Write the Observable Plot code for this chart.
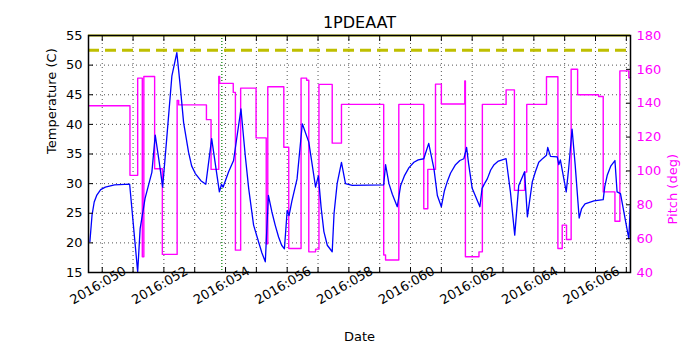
<!DOCTYPE html>
<html>
<head>
<meta charset="utf-8">
<script src="https://cdn.jsdelivr.net/npm/d3@7"></script>
<script src="https://cdn.jsdelivr.net/npm/@observablehq/plot@0.6"></script>
<style>
  html, body { margin: 0; padding: 0; background: white; }
</style>
</head>
<body>
<div id="chart"></div>
<script>
// ---- Data (day of year 2016) ----
const title = "1PDEAAT";
const tempDays = [49.60, 49.67, 49.74, 49.82, 49.95, 50.10, 50.40, 50.89, 51.15, 51.23, 51.39, 51.61,
  51.72, 51.85, 51.96, 52.10, 52.26, 52.42, 52.53, 52.64, 52.80, 52.90, 53.02, 53.20, 53.36, 53.55,
  53.80, 53.87, 53.92, 54.10, 54.26, 54.50, 54.64, 54.75, 54.91, 55.07, 55.18, 55.29, 55.39, 55.50,
  55.61, 55.72, 55.82, 55.91, 56.00, 56.06, 56.15, 56.32, 56.49, 56.70, 56.92, 57.01, 57.10, 57.19,
  57.30, 57.46, 57.52, 57.62, 57.76, 57.89, 58.11, 59.13, 59.19, 59.30, 59.41, 59.57, 59.68, 59.80,
  59.95, 60.11, 60.25, 60.43, 60.59, 60.76, 60.87, 61.00, 61.10, 61.19, 61.30, 61.46, 61.60, 61.73,
  61.82, 61.88, 62.00, 62.25, 62.32, 62.40, 62.49, 62.60, 62.71, 62.85, 63.10, 63.24, 63.38, 63.51,
  63.70, 63.79, 63.95, 64.05, 64.16, 64.30, 64.41, 64.45, 64.54, 64.76, 64.81, 64.86, 65.05, 65.13,
  65.24, 65.34, 65.47, 65.55, 65.66, 65.95, 66.25, 66.30, 66.38, 66.50, 66.63, 66.70, 66.81, 67.08,
  67.13];
const tempValues = [20.2, 24.7, 26.9, 28.0, 29.0, 29.4, 29.8, 29.9, 15.1, 22.4, 27.5, 31.9,
  38.2, 33.6, 29.4, 38.1, 48.2, 52.1, 46.5, 40.3, 35.3, 33.0, 31.7, 30.5, 29.9, 37.6,
  28.6, 29.9, 29.4, 32.0, 33.9, 42.6, 34.7, 29.2, 23.0, 20.2, 18.3, 16.8, 28.0, 25.3,
  23.0, 21.0, 19.6, 19.0, 25.5, 24.6, 27.0, 30.8, 40.1, 37.0, 29.4, 31.3, 26.0, 21.9,
  19.6, 18.5, 25.0, 30.0, 33.6, 30.0, 29.7, 29.8, 33.2, 30.0, 28.2, 26.1, 29.7, 31.3,
  32.7, 33.6, 34.0, 34.2, 36.8, 32.5, 28.0, 26.1, 28.8, 30.3, 31.8, 33.2, 33.9, 34.2,
  36.1, 33.5, 29.2, 26.1, 29.2, 30.0, 30.8, 32.3, 33.2, 33.8, 34.2, 28.6, 21.3, 29.7,
  32.0, 24.4, 30.3, 32.0, 33.6, 34.3, 34.8, 36.1, 34.6, 34.5, 33.2, 34.0, 28.6, 32.6,
  39.2, 33.2, 24.2, 25.8, 26.6, 27.1, 27.3, 29.5, 31.4, 33.0, 33.9, 28.6, 28.3, 20.7,
  26.2];

const pitchDays = [49.56, 50.90, 51.15, 51.30, 51.35, 51.70, 51.95, 52.43, 52.48, 53.38, 53.53,
  53.78, 53.81, 54.25, 54.32, 54.49, 54.99, 55.32, 55.37, 55.89, 56.05, 56.45, 56.63, 56.70,
  56.92, 57.03, 57.46, 57.76, 59.13, 59.19, 59.62, 60.43, 60.56, 60.81, 61.00, 61.76, 61.78,
  62.22, 62.33, 63.10, 63.37, 63.70, 63.77, 64.41, 64.78, 64.92, 65.06, 65.21, 65.42, 66.10,
  66.25, 66.63, 66.79, 67.08, 67.135];
const pitchValues = [138.5, 97.4, 154.8, 49.3, 155.8, 101.3, 50.7, 141.6, 139.0, 130.3, 100.9,
  155.8, 151.7, 146.4, 53.2, 148.9, 119.5, 57.0, 149.7, 114.0, 54.2, 154.8, 153.6, 52.2,
  53.8, 151.1, 116.4, 139.3, 50.3, 47.4, 139.3, 77.7, 100.9, 151.3, 139.5, 153.2, 49.3,
  52.2, 139.3, 147.9, 88.5, 99.3, 139.3, 155.6, 54.2, 68.0, 59.5, 160.1, 145.0, 144.0,
  87.6, 70.3, 159.1, 155.0, 155.0];

const limitTemp = 52.5;
const topLimitTemp = 55;
const markerDay = 53.88;

const xDomain = [49.555, 67.135];
const tempDomain = [15, 55];
const pitchDomain = [40, 180];
const dayTicks = d3.range(50, 68);          // minor ticks / grid every day
const dayLabels = d3.range(50, 67, 2);       // labelled ticks
const tempTicks = d3.range(15, 56, 5);
const pitchTicks = d3.range(40, 181, 20);

// map pitch into temperature space for the shared y scale
const p2t = p => tempDomain[0] + (p - pitchDomain[0]) * (tempDomain[1] - tempDomain[0]) / (pitchDomain[1] - pitchDomain[0]);
const t2p = t => pitchDomain[0] + (t - tempDomain[0]) * (pitchDomain[1] - pitchDomain[0]) / (tempDomain[1] - tempDomain[0]);

const temp = tempDays.map((d, i) => ({day: d, value: tempValues[i]}));
const pitch = pitchDays.map((d, i) => ({day: d, value: p2t(pitchValues[i])}));

const BLUE = "#0000ff", MAGENTA = "#ff00ff", OLIVE = "#bfbf00";
const grid = {stroke: "#000", strokeOpacity: 0.85, strokeWidth: 0.8, strokeDasharray: "1,3"};

const chart = Plot.plot({
  width: 700,
  height: 350,
  marginLeft: 88,
  marginRight: 70,
  marginTop: 35,
  marginBottom: 78,
  style: {fontFamily: "DejaVu Sans, sans-serif", fontSize: "13px", background: "white", color: "black"},
  x: {domain: xDomain, axis: null},
  y: {domain: tempDomain, axis: null},
  marks: [
    Plot.gridY(tempTicks.slice(1, -1), grid),
    Plot.gridX(dayTicks, grid),
    Plot.ruleX([markerDay], {stroke: "green", strokeWidth: 1.2, strokeDasharray: "1,2"}),
    Plot.ruleY([limitTemp], {stroke: OLIVE, strokeWidth: 3, strokeDasharray: "11,6"}),
    Plot.ruleY([topLimitTemp], {stroke: OLIVE, strokeWidth: 2}),
    Plot.line(pitch, {x: "day", y: "value", stroke: MAGENTA, strokeWidth: 1.4, curve: "step-after"}),
    Plot.line(temp, {x: "day", y: "value", stroke: BLUE, strokeWidth: 1.3}),
    Plot.frame({stroke: "black", strokeWidth: 1.5}),
    // inward ticks
    Plot.axisX({anchor: "bottom", ticks: dayTicks, tickSize: 5, dy: -5, tickFormat: () => "", label: null}),
    Plot.axisX({anchor: "top", ticks: dayTicks, tickSize: 5, dy: 5, tickFormat: () => "", label: null}),
    Plot.axisY({anchor: "left", ticks: tempTicks, tickSize: 5, dx: 5, tickFormat: () => "", label: null}),
    Plot.axisY(pitchTicks.map(p2t), {anchor: "right", tickSize: 5, dx: -5, tickFormat: () => "", label: null}),
    // tick labels
    Plot.axisY({anchor: "left", ticks: tempTicks, tickSize: 0, tickPadding: 6, label: null, fontSize: 13}),
    Plot.axisY(pitchTicks.map(p2t), {anchor: "right", tickSize: 0, tickPadding: 6, label: null, fontSize: 13,
      color: MAGENTA, tickFormat: t => String(Math.round(t2p(t)))}),
    Plot.text(dayLabels, {x: d => d, text: d => "2016:" + String(d).padStart(3, "0"), frameAnchor: "bottom",
      dx: -4, dy: 13, rotate: -30, textAnchor: "middle", lineAnchor: "middle", fontSize: 13, fill: "black"}),
    // axis titles
    Plot.text([title], {text: d => d, frameAnchor: "top", dy: -13, fontSize: 16, lineAnchor: "middle", fill: "black"}),
    Plot.text(["Date"], {text: d => d, frameAnchor: "bottom", dy: 64, fontSize: 13, lineAnchor: "middle", fill: "black"}),
    Plot.text(["Temperature (C)"], {text: d => d, frameAnchor: "left", dx: -37, rotate: -90, fontSize: 13, lineAnchor: "middle", fill: "black"}),
    Plot.text(["Pitch (deg)"], {text: d => d, frameAnchor: "right", dx: 42, rotate: -90, fontSize: 13, lineAnchor: "middle", fill: MAGENTA})
  ]
});
document.getElementById("chart").appendChild(chart);
</script>
</body>
</html>
